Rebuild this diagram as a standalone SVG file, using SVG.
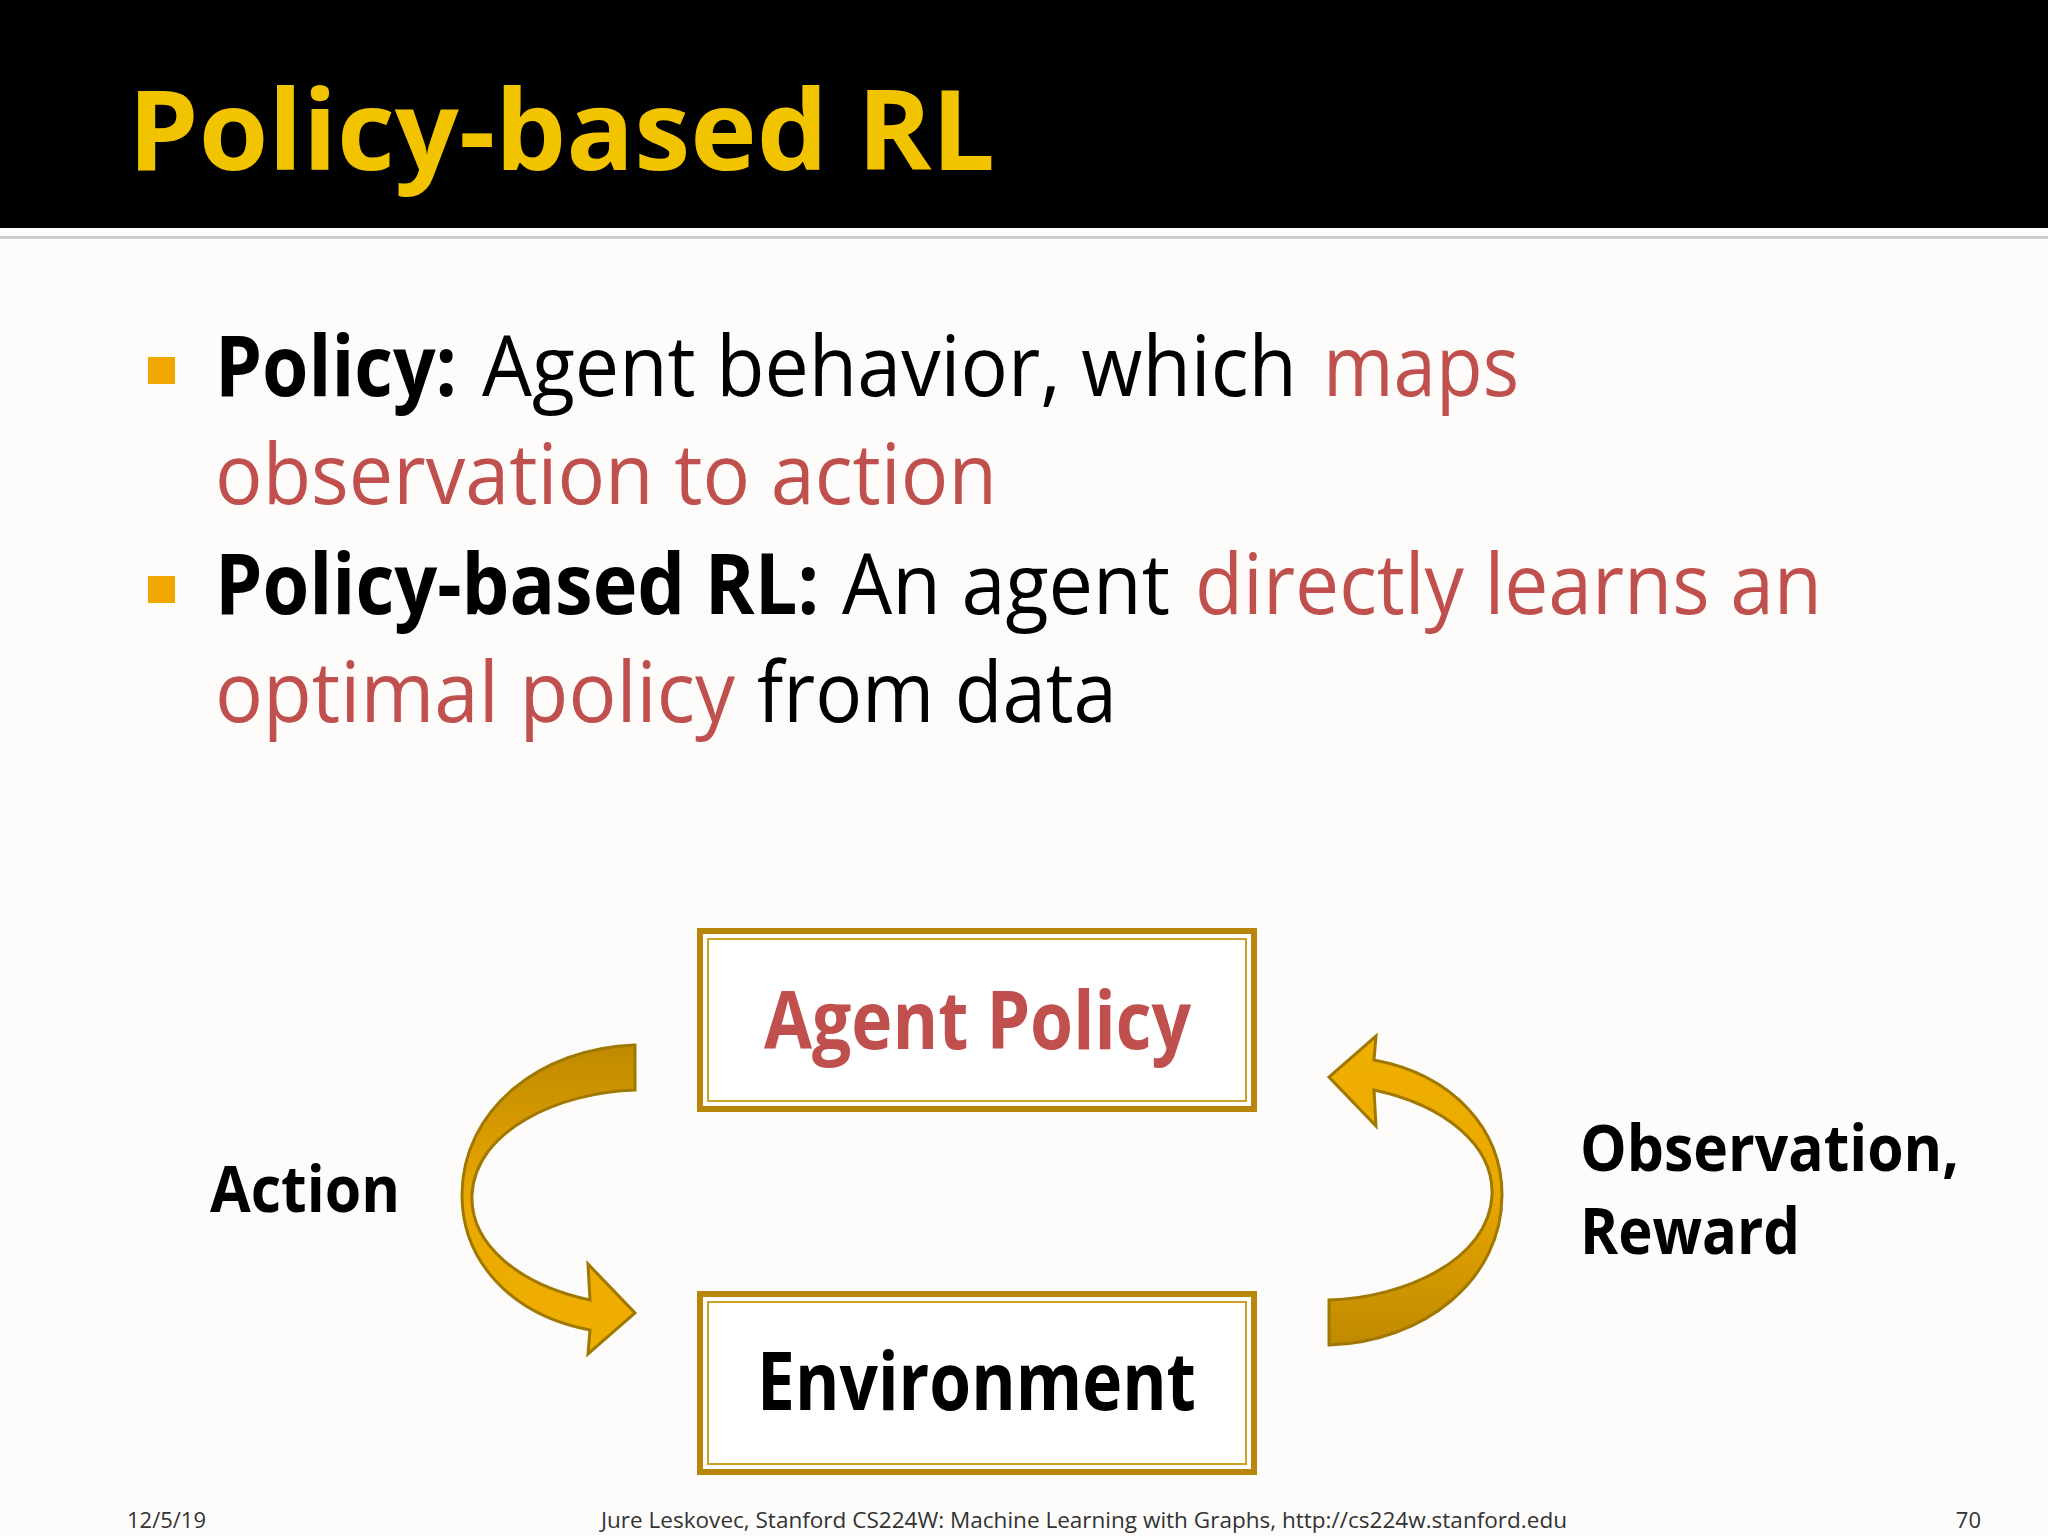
<svg xmlns="http://www.w3.org/2000/svg" width="2048" height="1536" viewBox="0 0 2048 1536">
<defs>
<linearGradient id="g" x1="0" y1="0" x2="0" y2="1">
<stop offset="0" stop-color="#C08A00"/><stop offset="0.5" stop-color="#E9A800"/><stop offset="1" stop-color="#F0B000"/>
</linearGradient>
<path id="arr" d="M635,1045 L635,1090 C560,1092 475,1130 472,1195 C470,1245 520,1285 590,1300 L588,1264 L635,1313 L588,1354 L590,1330 C510,1315 462,1260 462,1195 C462,1110 540,1048 635,1045 Z"/>
</defs>
<style>
.t{font-family:"Open Sans","Liberation Sans",sans-serif;}
.b{font-weight:bold;}
.r{fill:#C0504D;}
.k{fill:#000;}
.box{fill:#fff;stroke:#B8860B;stroke-width:6;}
.in{fill:none;stroke:#C9A227;stroke-width:2;}
.a{fill:url(#g);stroke:#A07800;stroke-width:3;}
</style>
<rect width="2048" height="1536" fill="#FDFCFA"/>
<rect width="2048" height="228" fill="#000"/>
<rect y="228" width="2048" height="8" fill="#fff"/>
<rect y="236" width="2048" height="3" fill="#ccc"/>
<text class="t b" x="128" y="170" font-size="112" fill="#F2C400" textLength="867" lengthAdjust="spacingAndGlyphs">Policy-based RL</text>
<rect x="148" y="357" width="27" height="27" fill="#F0A800"/>
<rect x="148" y="576" width="27" height="27" fill="#F0A800"/>
<g class="t" font-size="84">
<text x="215" y="396" class="b k" textLength="242" lengthAdjust="spacingAndGlyphs">Policy:</text>
<text x="482" y="396" class="k" textLength="815" lengthAdjust="spacingAndGlyphs">Agent behavior, which</text>
<text x="1323" y="396" class="r" textLength="196" lengthAdjust="spacingAndGlyphs">maps</text>
<text x="215" y="504" class="r" textLength="782" lengthAdjust="spacingAndGlyphs">observation to action</text>
<text x="215" y="614" class="b k" textLength="604" lengthAdjust="spacingAndGlyphs">Policy-based RL:</text>
<text x="842" y="614" class="k" textLength="328" lengthAdjust="spacingAndGlyphs">An agent</text>
<text x="1195" y="614" class="r" textLength="627" lengthAdjust="spacingAndGlyphs">directly learns an</text>
<text x="215" y="722" class="r" textLength="520" lengthAdjust="spacingAndGlyphs">optimal policy</text>
<text x="757" y="722" class="k" textLength="360" lengthAdjust="spacingAndGlyphs">from data</text>
</g>
<g id="agent">
<rect class="box" x="700" y="931" width="554" height="178"/>
<rect class="in" x="708" y="939" width="538" height="162"/>
<text class="t b r" x="764" y="1049" font-size="80" textLength="427" lengthAdjust="spacingAndGlyphs">Agent Policy</text>
</g>
<g id="env">
<rect class="box" x="700" y="1294" width="554" height="178"/>
<rect class="in" x="708" y="1302" width="538" height="162"/>
<text class="t b k" x="757" y="1410" font-size="80" textLength="439" lengthAdjust="spacingAndGlyphs">Environment</text>
</g>
<g id="connectors">
<use href="#arr" class="a"/>
<use href="#arr" class="a" transform="rotate(180 982 1195)"/>
</g>
<g class="t b k" font-size="64">
<text x="210" y="1212" textLength="190" lengthAdjust="spacingAndGlyphs">Action</text>
<text x="1580" y="1171" textLength="379" lengthAdjust="spacingAndGlyphs">Observation,</text>
<text x="1580" y="1254" textLength="220" lengthAdjust="spacingAndGlyphs">Reward</text>
</g>
<g class="t" font-size="22" fill="#333">
<text x="127" y="1528">12/5/19</text>
<text x="1084" y="1528" text-anchor="middle" textLength="966" lengthAdjust="spacingAndGlyphs">Jure Leskovec, Stanford CS224W: Machine Learning with Graphs, http://cs224w.stanford.edu</text>
<text x="1981" y="1528" text-anchor="end">70</text>
</g>
</svg>
